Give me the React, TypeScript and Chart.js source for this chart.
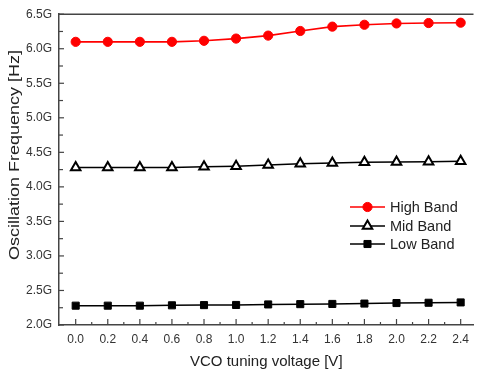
import React, { useEffect, useRef } from "react";
import { Chart, registerables } from "chart.js";
import { drawPoint } from "chart.js/helpers";

Chart.register(...registerables);

const voltages = [0.0, 0.2, 0.4, 0.6, 0.8, 1.0, 1.2, 1.4, 1.6, 1.8, 2.0, 2.2, 2.4];
const highBand = [6.1, 6.1, 6.1, 6.1, 6.115, 6.147, 6.19, 6.257, 6.32, 6.347, 6.366, 6.372, 6.377];
const midBand = [4.28, 4.28, 4.28, 4.28, 4.29, 4.3, 4.315, 4.335, 4.345, 4.355, 4.36, 4.365, 4.37];
const lowBand = [2.28, 2.28, 2.28, 2.285, 2.288, 2.29, 2.298, 2.302, 2.305, 2.31, 2.318, 2.322, 2.327];
const xTicks = [0.0, 0.2, 0.4, 0.6, 0.8, 1.0, 1.2, 1.4, 1.6, 1.8, 2.0, 2.2, 2.4];
const yTicks = [2.0, 2.5, 3.0, 3.5, 4.0, 4.5, 5.0, 5.5, 6.0, 6.5];
const seriesNames = ["High Band", "Mid Band", "Low Band"];
const xTitle = "VCO tuning voltage [V]";
const yTitle = "Oscillation Frequency [Hz]";

const AXIS_COLOR = "#444";
const FONT = "'Liberation Sans', Arial, sans-serif";

const frameAndTicks = {
  id: "frameAndTicks",
  afterDraw(chart: any) {
    const { ctx, chartArea } = chart;
    const xs = chart.scales.x;
    const ys = chart.scales.y;
    ctx.save();
    ctx.strokeStyle = AXIS_COLOR;
    ctx.lineWidth = 1.5;
    ctx.beginPath();
    ctx.moveTo(chartArea.left, chartArea.top);
    ctx.lineTo(chartArea.right, chartArea.top);
    ctx.stroke();
    ctx.lineWidth = 1.2;
    const xb = chartArea.bottom;
    xTicks.forEach((v, i) => {
      const px = xs.getPixelForValue(v);
      ctx.beginPath();
      ctx.moveTo(px, xb);
      ctx.lineTo(px, xb - 6);
      ctx.stroke();
      if (i < xTicks.length - 1) {
        const mx = xs.getPixelForValue((v + xTicks[i + 1]) / 2);
        ctx.beginPath();
        ctx.moveTo(mx, xb);
        ctx.lineTo(mx, xb - 3);
        ctx.stroke();
      }
    });
    const yl = chartArea.left;
    yTicks.forEach((v, i) => {
      const py = ys.getPixelForValue(v);
      ctx.beginPath();
      ctx.moveTo(yl, py);
      ctx.lineTo(yl + 5, py);
      ctx.stroke();
      if (i < yTicks.length - 1) {
        const my = ys.getPixelForValue((v + yTicks[i + 1]) / 2);
        ctx.beginPath();
        ctx.moveTo(yl, my);
        ctx.lineTo(yl + 4, my);
        ctx.stroke();
      }
    });
    // y-axis title (slightly stretched along its length, as in the reference)
    ctx.save();
    ctx.translate(15, 155);
    ctx.rotate(-Math.PI / 2);
    ctx.scale(1.2, 1);
    ctx.fillStyle = "#222";
    ctx.font = `15px ${FONT}`;
    ctx.textAlign = "center";
    ctx.textBaseline = "middle";
    ctx.fillText(yTitle, 0, 0);
    ctx.restore();
    ctx.restore();
  },
};

const insideLegend = {
  id: "insideLegend",
  afterDraw(chart: any) {
    const { ctx } = chart;
    const rows = [207, 226, 244];
    const x0 = 350;
    const x1 = 385;
    ctx.save();
    chart.data.datasets.forEach((ds: any, i: number) => {
      const y = rows[i];
      ctx.strokeStyle = ds.borderColor;
      ctx.lineWidth = ds.borderWidth;
      ctx.beginPath();
      ctx.moveTo(x0, y);
      ctx.lineTo(x1, y);
      ctx.stroke();
      ctx.fillStyle = ds.pointBackgroundColor;
      ctx.strokeStyle = ds.pointBorderColor;
      ctx.lineWidth = ds.pointBorderWidth;
      drawPoint(ctx, { pointStyle: ds.pointStyle, radius: ds.pointRadius, rotation: 0, borderWidth: ds.pointBorderWidth }, (x0 + x1) / 2, y);
      ctx.fillStyle = "#222";
      ctx.font = `14.5px ${FONT}`;
      ctx.textBaseline = "middle";
      ctx.textAlign = "left";
      ctx.fillText(ds.label, 390, y + 0.5);
    });
    ctx.restore();
  },
};

export default function App() {
  const ref = useRef<HTMLCanvasElement | null>(null);
  useEffect(() => {
    if (!ref.current) return;
    const toPts = (vals: number[]) => voltages.map((v, i) => ({ x: v, y: vals[i] }));
    const chart = new Chart(ref.current, {
      type: "line",
      data: {
        datasets: [
          {
            label: seriesNames[0],
            data: toPts(highBand),
            borderColor: "#ff0000",
            borderWidth: 1.6,
            pointStyle: "circle",
            pointRadius: 4.6,
            pointBackgroundColor: "#ff0000",
            pointBorderColor: "#ff0000",
            pointBorderWidth: 1,
            fill: false,
          },
          {
            label: seriesNames[1],
            data: toPts(midBand),
            borderColor: "#000000",
            borderWidth: 1.5,
            pointStyle: "triangle",
            pointRadius: 5.5,
            pointBackgroundColor: "#ffffff",
            pointBorderColor: "#000000",
            pointBorderWidth: 2,
            fill: false,
          },
          {
            label: seriesNames[2],
            data: toPts(lowBand),
            borderColor: "#000000",
            borderWidth: 1.5,
            pointStyle: "rect",
            pointRadius: 5,
            pointBackgroundColor: "#000000",
            pointBorderColor: "#000000",
            pointBorderWidth: 1,
            fill: false,
          },
        ] as any,
      },
      plugins: [frameAndTicks, insideLegend],
      options: {
        animation: false,
        responsive: false,
        layout: { padding: { top: 11, left: 0, right: 0, bottom: 0 } },
        plugins: { legend: { display: false }, tooltip: { enabled: false } },
        scales: {
          x: {
            type: "linear",
            min: -0.104,
            max: 2.48,
            afterBuildTicks: (s: any) => {
              s.ticks = xTicks.map((v) => ({ value: v }));
            },
            afterFit: (s: any) => {
              s.height = 48;
            },
            grid: { display: false, drawTicks: false },
            border: { display: true, color: AXIS_COLOR, width: 1.5 },
            ticks: {
              padding: 7,
              color: "#333",
              font: { family: FONT, size: 12 },
              maxRotation: 0,
              autoSkip: false,
              callback: (v: any) => Number(v).toFixed(1),
            },
            title: {
              display: true,
              text: xTitle,
              color: "#222",
              font: { family: FONT, size: 15 },
              padding: { top: 0, bottom: 2 },
            },
          },
          y: {
            type: "linear",
            min: 2.0,
            max: 6.5,
            afterBuildTicks: (s: any) => {
              s.ticks = yTicks.map((v) => ({ value: v }));
            },
            afterFit: (s: any) => {
              s.width = 59;
            },
            grid: { display: false, drawTicks: false },
            border: { display: true, color: AXIS_COLOR, width: 1.5 },
            ticks: {
              padding: 7,
              color: "#333",
              font: { family: FONT, size: 12 },
              autoSkip: false,
              callback: (v: any) => `${Number(v).toFixed(1)}G`,
            },
            title: { display: false },
          },
        },
      } as any,
    });
    return () => chart.destroy();
  }, []);
  return (
    <div style={{ position: "absolute", left: 0, top: 0, width: 481, height: 373, background: "#fff" }}>
      <canvas ref={ref} width={481} height={373} style={{ display: "block" }} />
    </div>
  );
}
